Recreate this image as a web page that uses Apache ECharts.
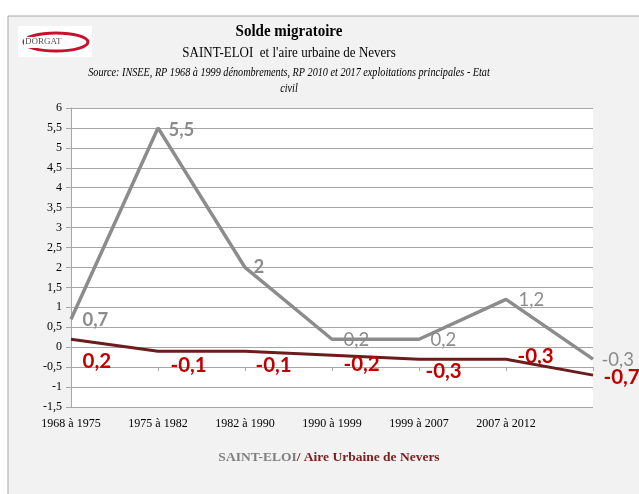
<!DOCTYPE html>
<html><head><meta charset="utf-8">
<script src="https://cdn.jsdelivr.net/npm/echarts@6/dist/echarts.min.js"></script>
<style>html,body{margin:0;padding:0;background:#fff;}#c{width:639px;height:494px;}</style>
</head><body><div id="c"></div>
<script>
const categories = ['1968 à 1975','1975 à 1982','1982 à 1990','1990 à 1999','1999 à 2007','2007 à 2012',''];
const saintEloi = [0.7, 5.5, 2, 0.2, 0.2, 1.2, -0.3];
const aireUrbaine = [0.2, -0.1, -0.1, -0.2, -0.3, -0.3, -0.7];
const yTicks = {min: -1.5, max: 6, interval: 0.5};

const greyOffsets = [[6,1],[5,2],[3,0],[6,1],[6,1],[7,1],[3,1]];
const greyBold = [true,true,true,false,false,false,false];
const redOffsets = [[6,22],[7,14],[5,14],[6,9],[1,12],[6,-3],[5,2]];

const fmt = v => String(v).replace('.', ',');
const serif = '"Liberation Serif", "DejaVu Serif", serif';
const sans = 'Lato, "Liberation Sans", sans-serif';

const chart = echarts.init(document.getElementById('c'));
chart.setOption({
  animation: false,
  backgroundColor: '#ffffff',
  graphic: [
    {type:'rect', z:-10, shape:{x:8,y:16,width:640,height:490}, style:{fill:'#f2f2f2', stroke:'#a6a6a6', lineWidth:1}},
    {type:'rect', shape:{x:18,y:26,width:74,height:31}, style:{fill:'#ffffff'}},
    {type:'ellipse', shape:{cx:56,cy:42,rx:32,ry:9}, style:{fill:'none', stroke:'#c8102e', lineWidth:3}},
    {type:'rect', shape:{x:24,y:37,width:50,height:11}, style:{fill:'#ffffff'}},
    {type:'text', x:25, y:42, style:{text:'DORGAT', fill:'#555', font:'9px '+serif, verticalAlign:'middle'}},
    {type:'text', x:289, y:32, scaleY:1.12, style:{text:'Solde migratoire', fill:'#000', font:'bold 15px '+serif, align:'center', verticalAlign:'middle'}},
    {type:'text', x:289, y:53, scaleY:1.18, style:{text:"SAINT-ELOI  et l'aire urbaine de Nevers", fill:'#000', font:'13px '+serif, align:'center', verticalAlign:'middle'}},
    {type:'text', x:289, y:73, scaleY:1.2, style:{text:'Source: INSEE, RP 1968 à 1999 dénombrements, RP 2010 et 2017 exploitations principales - Etat', fill:'#000', font:'italic 10.2px '+serif, align:'center', verticalAlign:'middle'}},
    {type:'text', x:289, y:89, scaleY:1.2, style:{text:'civil', fill:'#000', font:'italic 10.2px '+serif, align:'center', verticalAlign:'middle'}},
    {type:'text', x:329, y:458, style:{
      text:'{a|SAINT-ELOI}{b|/ Aire Urbaine de Nevers}', align:'center', verticalAlign:'middle',
      rich:{a:{fill:'#7f7f7f', font:'bold 13.5px '+serif}, b:{fill:'#7b2020', font:'bold 13.5px '+serif}}
    }}
  ],
  grid: {left:71, right:46, top:108, bottom:87, show:true, backgroundColor:'#ffffff', borderWidth:0},
  xAxis: [
    {type:'category', data:categories, boundaryGap:false, position:'bottom',
      axisLine:{show:false}, axisTick:{show:false},
      axisLabel:{color:'#000', fontFamily:serif, fontSize:12, margin:11, interval:0}},
    {type:'category', data:categories, boundaryGap:false, position:'bottom', offset:-40,
      axisLine:{show:false}, axisTick:{show:true, length:4, lineStyle:{color:'#a6a6a6'}},
      axisLabel:{show:false}}
  ],
  yAxis: {type:'value', min:yTicks.min, max:yTicks.max, interval:yTicks.interval,
    axisLine:{show:true, lineStyle:{color:'#a6a6a6', width:1}},
    axisTick:{show:true, length:5, lineStyle:{color:'#a6a6a6'}},
    axisLabel:{color:'#000', fontFamily:serif, fontSize:12, margin:9, formatter:fmt},
    splitLine:{lineStyle:{color:'#a6a6a6', width:1}}
  },
  series: [
    {name:'SAINT-ELOI', type:'line', symbol:'circle', symbolSize:1, showSymbol:true, z:3,
      itemStyle:{color:'rgba(0,0,0,0)'},
      lineStyle:{color:'#8c8c8c', width:3.5},
      data: saintEloi.map((v,i)=>({value:v, label:{offset:greyOffsets[i], fontWeight: greyBold[i]?'bold':'normal'}})),
      label:{show:true, position:'right', distance:5, color:'#8c8c8c', fontFamily:sans, fontSize:18.5, formatter:p=>fmt(p.value)}
    },
    {name:'Aire Urbaine de Nevers', type:'line', symbol:'circle', symbolSize:1, showSymbol:true, z:2,
      itemStyle:{color:'rgba(0,0,0,0)'},
      lineStyle:{color:'#6b1c1c', width:3},
      data: aireUrbaine.map((v,i)=>({value:v, label:{offset:redOffsets[i]}})),
      label:{show:true, position:'right', distance:5, color:'#c00000', fontWeight:'bold', fontFamily:sans, fontSize:20.5, formatter:p=>fmt(p.value)}
    }
  ]
});
</script></body></html>
